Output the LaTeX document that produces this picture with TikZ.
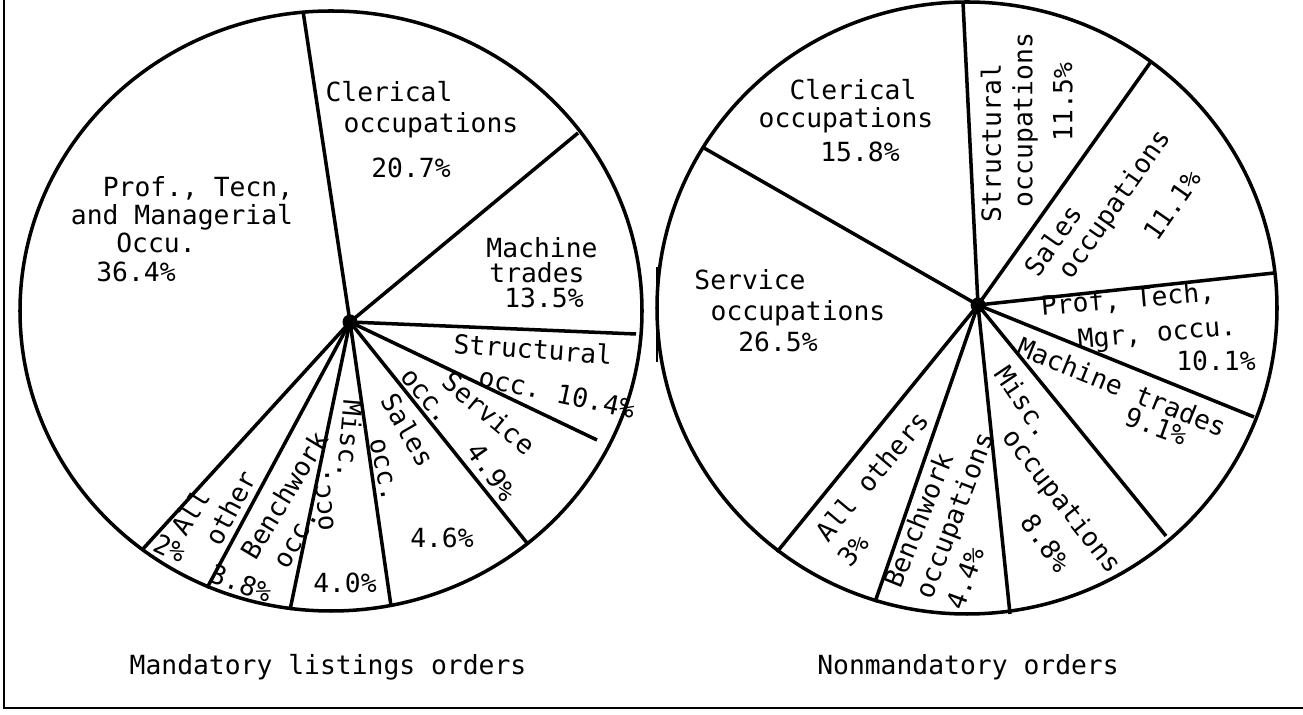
\documentclass[tikz,border=0pt]{standalone}
\usepackage{fontspec}
\setmonofont{DejaVu Sans Mono}
\begin{document}
\begin{tikzpicture}[x=0.02cm, y=-0.02cm,
  every node/.style={font=\ttfamily\fontsize{15}{17}\selectfont, inner sep=0pt},
  rim/.style={line width=2pt},
  spoke/.style={line width=2pt},
  hub/.style={circle, fill, minimum size=0.3cm}]
  \useasboundingbox (0,0) rectangle (1303,715);
  % frame
  \draw [line width=1.5pt] (4,0) -- (4,708) -- (1303,708);
  \draw [line width=1.5pt] (657,267) -- (657,362);

  % mandatory listings
  \draw [rim] (331,311) ellipse [x radius=311, y radius=300];
  \node [hub] (hubL) at (350,322) {};
  \coordinate (L1) at (303,11);
  \coordinate (L2) at (578,133);
  \coordinate (L3) at (636,334);
  \coordinate (L4) at (597,440);
  \coordinate (L5) at (527,543);
  \coordinate (L6) at (391,606);
  \coordinate (L7) at (290,610);
  \coordinate (L8) at (207,588);
  \coordinate (L9) at (142,550);
  \foreach \e in {L1,L2,L3,L4,L5,L6,L7,L8,L9}
    \draw [spoke] (hubL.center) -- (\e);

  \node (profL1) at (198,188) {Prof., Tecn,};
  \node (profL2) at (182,217) {and Managerial};
  \node (profL3) at (156,243) {Occu.};
  \node (profL4) at (136,272) {36.4\%};
  \node (clerL1) at (389,92) {Clerical};
  \node (clerL2) at (431,125) {occupations};
  \node (clerL3) at (411,168) {20.7\%};
  \node (machL1) at (542,248) {Machine};
  \node (machL2) at (537,273) {trades};
  \node (machL3) at (544,298) {13.5\%};
  \node [rotate=-4] (strL1) at (533,349) {Structural};
  \node [rotate=-12] (strL2) at (557,393) {occ. 10.4\%};
  \node [rotate=-40] (servL1) at (489,413) {Service};
  \node [rotate=-50] (servL2) at (425,397) {occ.};
  \node [rotate=-55] (servL3) at (492,472) {4.9\%};
  \node [rotate=-60] (saleL1) at (408,430) {Sales};
  \node [rotate=-78] (saleL2) at (383,470) {occ.};
  \node (saleL3) at (442,538) {4.6\%};
  \node [rotate=-95] (miscL1) at (350,440) {Misc.};
  \node [rotate=95] (miscL2) at (324,500) {occ.};
  \node (miscL3) at (345,583) {4.0\%};
  \node [rotate=59] (benchL1) at (284,495) {Benchwork};
  \node [rotate=60] (benchL2) at (297,539) {occ.};
  \node [rotate=-20] (benchL3) at (241,583) {3.8\%};
  \node [rotate=58] (allL1) at (190,512) {All};
  \node [rotate=62] (allL2) at (230,508) {other};
  \node [rotate=-25] (allL3) at (170,548) {2\%};
  \node (capL) at (328,667) {Mandatory listings orders};

  % nonmandatory
  \draw [rim] (967,308) ellipse [x radius=310, y radius=306];
  \node [hub] (hubR) at (978,305) {};
  \coordinate (R1) at (963,2);
  \coordinate (R2) at (704,148);
  \coordinate (R3) at (1150,63);
  \coordinate (R4) at (1274,273);
  \coordinate (R5) at (1254,417);
  \coordinate (R6) at (1166,536);
  \coordinate (R7) at (1010,614);
  \coordinate (R8) at (875,602);
  \coordinate (R9) at (777,552);
  \foreach \e in {R1,R2,R3,R4,R5,R6,R7,R8,R9}
    \draw [spoke] (hubR.center) -- (\e);

  \node (clerR1) at (853,90) {Clerical};
  \node (clerR2) at (846,120) {occupations};
  \node (clerR3) at (860,152) {15.8\%};
  \node [rotate=90] (strR1) at (991,143) {Structural};
  \node [rotate=90] (strR2) at (1025,120) {occupations};
  \node [rotate=90] (strR3) at (1063,102) {11.5\%};
  \node [rotate=55] (saleR1) at (1053,240) {Sales};
  \node [rotate=55] (saleR2) at (1116,205) {occupations};
  \node [rotate=55] (saleR3) at (1172,205) {11.1\%};
  \node (servR1) at (750,280) {Service};
  \node (servR2) at (798,313) {occupations};
  \node (servR3) at (778,342) {26.5\%};
  \node [rotate=5] (profR1) at (1128,300) {Prof, Tech,};
  \node [rotate=5] (profR2) at (1157,335) {Mgr, occu.};
  \node (profR3) at (1216,361) {10.1\%};
  \node [rotate=-22] (machR1) at (1122,387) {Machine trades};
  \node [rotate=-20] (machR2) at (1156,426) {9.1\%};
  \node [rotate=-56] (miscR1) at (1024,402) {Misc.};
  \node [rotate=-52] (miscR2) at (1061,502) {occupations};
  \node [rotate=-55] (miscR3) at (1046,543) {8.8\%};
  \node [rotate=68] (benchR1) at (918,520) {Benchwork};
  \node [rotate=69] (benchR2) at (956,516) {occupations};
  \node [rotate=70] (benchR3) at (965,578) {4.4\%};
  \node [rotate=50] (allR1) at (872,476) {All others};
  \node [rotate=50] (allR2) at (853,550) {3\%};
  \node (capR) at (968,667) {Nonmandatory orders};
\end{tikzpicture}
\end{document}
